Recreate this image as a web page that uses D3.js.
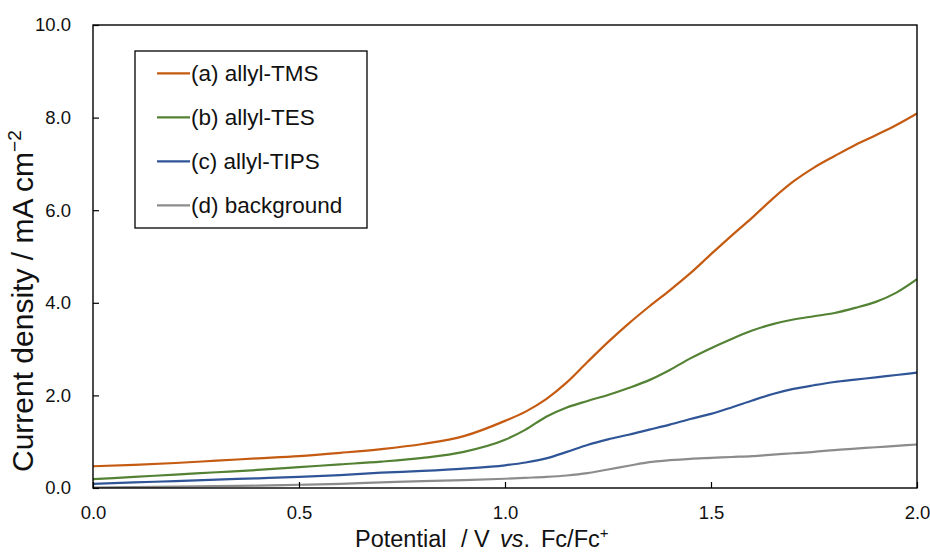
<!DOCTYPE html>
<html>
<head>
<meta charset="utf-8">
<script src="https://cdn.jsdelivr.net/npm/d3@7"></script>
<style>
  html, body { margin: 0; padding: 0; background: #fff; }
  svg { display: block; font-family: "Liberation Sans", Arial, sans-serif; }
  text { white-space: pre; }
</style>
</head>
<body>
<svg id="chart" width="930" height="552"></svg>
<script>
// Potential (V vs. Fc/Fc+) sampling grid
const potential = [0, 0.1, 0.2, 0.3, 0.4, 0.5, 0.6, 0.7, 0.8, 0.9,
  1.0, 1.05, 1.1, 1.15, 1.2, 1.25, 1.3, 1.35, 1.4, 1.45,
  1.5, 1.55, 1.6, 1.65, 1.7, 1.75, 1.8, 1.85, 1.9, 1.95, 2.0];

// Current density (mA cm^-2) for each run
const allylTMS = [0.47, 0.50, 0.54, 0.59, 0.64, 0.69, 0.76, 0.84, 0.95, 1.12,
  1.45, 1.65, 1.92, 2.28, 2.72, 3.15, 3.55, 3.92, 4.27, 4.64,
  5.05, 5.45, 5.84, 6.25, 6.62, 6.92, 7.17, 7.41, 7.62, 7.84, 8.09];
const allylTES = [0.19, 0.24, 0.29, 0.34, 0.39, 0.45, 0.51, 0.57, 0.65, 0.78,
  1.04, 1.26, 1.54, 1.74, 1.88, 2.01, 2.16, 2.33, 2.55, 2.80,
  3.02, 3.22, 3.40, 3.54, 3.64, 3.71, 3.78, 3.89, 4.02, 4.22, 4.51];
const allylTIPS = [0.09, 0.12, 0.15, 0.18, 0.21, 0.24, 0.28, 0.33, 0.37, 0.42,
  0.49, 0.55, 0.64, 0.78, 0.93, 1.05, 1.15, 1.26, 1.37, 1.49,
  1.60, 1.74, 1.89, 2.03, 2.14, 2.22, 2.29, 2.34, 2.39, 2.44, 2.49];
const background = [0.01, 0.02, 0.03, 0.04, 0.05, 0.07, 0.09, 0.12, 0.15, 0.17,
  0.20, 0.22, 0.24, 0.27, 0.32, 0.40, 0.48, 0.56, 0.60, 0.63,
  0.65, 0.67, 0.69, 0.72, 0.75, 0.78, 0.82, 0.85, 0.88, 0.91, 0.94];

const seriesNames = ["(a) allyl-TMS", "(b) allyl-TES", "(c) allyl-TIPS", "(d) background"];
const seriesValues = [allylTMS, allylTES, allylTIPS, background];
const seriesColors = ["#C55A11", "#548235", "#2F5597", "#8C8C8C"];

const xTicks = [0, 0.5, 1.0, 1.5, 2.0];
const yTicks = [0, 2, 4, 6, 8, 10];

const svg = d3.select("#chart");
const plot = { left: 93, right: 917, top: 25, bottom: 488 };

const x = d3.scaleLinear().domain([0, 2]).range([plot.left, plot.right]);
const y = d3.scaleLinear().domain([0, 10]).range([plot.bottom, plot.top]);

svg.append("defs").append("clipPath").attr("id", "plotClip")
  .append("rect")
  .attr("x", plot.left).attr("y", plot.top)
  .attr("width", plot.right - plot.left).attr("height", plot.bottom - plot.top);

// Curves (background drawn first, TMS on top)
const line = d3.line()
  .x((d, i) => x(potential[i]))
  .y(d => y(d))
  .curve(d3.curveMonotoneX);

svg.append("g").attr("clip-path", "url(#plotClip)")
  .selectAll("path")
  .data(seriesValues.slice().reverse())
  .join("path")
  .attr("fill", "none")
  .attr("stroke", (d, i) => seriesColors[seriesValues.length - 1 - i])
  .attr("stroke-width", 2.2)
  .attr("stroke-linejoin", "round")
  .attr("d", line);

// Axes with inward ticks
const xAxis = d3.axisBottom(x).tickValues(xTicks).tickFormat(d3.format(".1f"))
  .tickSizeInner(-6).tickSizeOuter(0).tickPadding(18);
const gx = svg.append("g").attr("transform", `translate(0,${plot.bottom})`).call(xAxis);
gx.select(".domain").remove();
gx.selectAll(".tick line").attr("stroke", "#000").attr("stroke-width", 1.2);
gx.selectAll(".tick text")
  .attr("font-size", 18.5).attr("fill", "#111")
  .attr("font-family", "Liberation Sans, Arial, sans-serif");

const yAxis = d3.axisLeft(y).tickValues(yTicks).tickFormat(d3.format(".1f"))
  .tickSizeInner(-6).tickSizeOuter(0).tickPadding(22);
const gy = svg.append("g").attr("transform", `translate(${plot.left},0)`).call(yAxis);
gy.select(".domain").remove();
gy.selectAll(".tick line").attr("stroke", "#000").attr("stroke-width", 1.2);
gy.selectAll(".tick text")
  .attr("font-size", 18.5).attr("fill", "#111")
  .attr("font-family", "Liberation Sans, Arial, sans-serif");

// Plot frame
svg.append("rect")
  .attr("x", plot.left).attr("y", plot.top)
  .attr("width", plot.right - plot.left).attr("height", plot.bottom - plot.top)
  .attr("fill", "none").attr("stroke", "#000").attr("stroke-width", 1.4);

// Axis titles
const xTitle = svg.append("text")
  .attr("y", 547)
  .attr("font-size", 23.5).attr("fill", "#111");
xTitle.append("tspan").attr("x", 355).text("Potential");
xTitle.append("tspan").attr("x", 461).text("/ V");
xTitle.append("tspan").attr("x", 500).attr("font-style", "italic").text("vs");
xTitle.append("tspan").text(".");
xTitle.append("tspan").attr("x", 541).text("Fc/Fc");
xTitle.append("tspan").attr("font-size", 15).attr("dy", -9).text("+");

const yTitle = svg.append("text")
  .attr("transform", "translate(33,472) rotate(-90)")
  .attr("font-size", 30).attr("fill", "#111");
yTitle.append("tspan").text("Current density / mA cm");
yTitle.append("tspan").attr("font-size", 19).attr("dy", -12).text("\u22122");

// Legend
const legend = svg.append("g");
legend.append("rect")
  .attr("x", 135).attr("y", 51).attr("width", 232).attr("height", 177)
  .attr("fill", "#fff").attr("stroke", "#000").attr("stroke-width", 1.3);
const rows = legend.selectAll("g.row")
  .data(seriesNames)
  .join("g").attr("class", "row")
  .attr("transform", (d, i) => `translate(0,${73.3 + i * 44})`);
rows.append("line")
  .attr("x1", 157).attr("x2", 190).attr("y1", 0).attr("y2", 0)
  .attr("stroke", (d, i) => seriesColors[i]).attr("stroke-width", 2.2);
rows.append("text")
  .attr("x", 191).attr("y", 0).attr("dy", "0.35em")
  .attr("font-size", 22.5).attr("fill", "#111")
  .text(d => d);
</script>
</body>
</html>
